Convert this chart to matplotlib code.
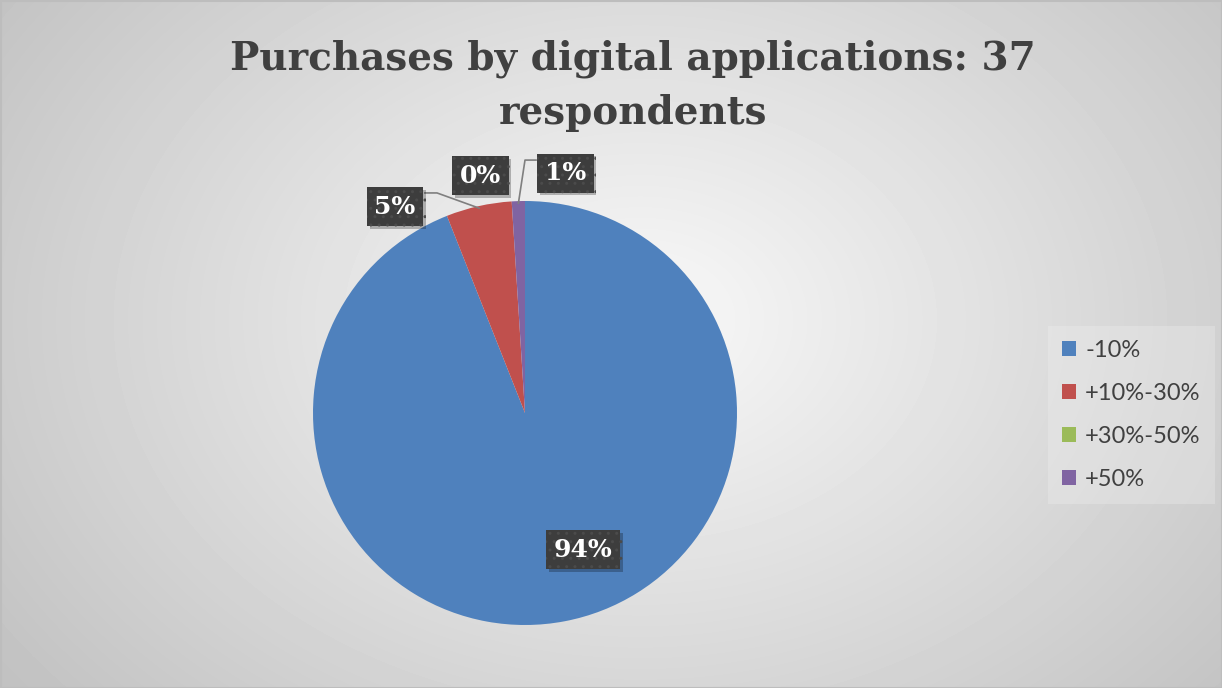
import numpy as np
import matplotlib
matplotlib.use("Agg")
import matplotlib.pyplot as plt
import matplotlib.patheffects as pe
from matplotlib.patches import Patch, Rectangle

title = "Purchases by digital applications: 37\nrespondents"
categories = ["-10%", "+10%-30%", "+30%-50%", "+50%"]
shares = [94, 5, 0, 1]
colors = ["#4F81BD", "#C0504D", "#9BBB59", "#8064A2"]

W, H = 1222, 688
fig = plt.figure(figsize=(W / 100, H / 100), dpi=100)

# radial grey background, lightest just above the middle
bg = fig.add_axes([0, 0, 1, 1], zorder=-10)
yy, xx = np.mgrid[0:H, 0:W]
r = np.hypot((xx - 640) / 700, (yy - 320) / 520)
shade = np.clip(0.975 - 0.19 * r, 0.76, 1)
bg.imshow(shade, cmap="gray", vmin=0, vmax=1, extent=[0, W, H, 0], aspect="auto")
bg.add_patch(Rectangle((0.5, 0.5), W - 1, H - 1, fill=False, ec="#bdbdbd", lw=1.5))
bg.set_xlim(0, W)
bg.set_ylim(H, 0)
bg.axis("off")

# baseline alignment pins the last line
fig.text(0.518, 1 - 124 / H, title, ha="center", va="baseline", fontsize=28,
         fontweight="bold", family="DejaVu Serif", color="#404040",
         linespacing=1.55)

# pie: centre (525, 413) px from top-left, radius 212 px
cx, cy, rad = 525, 413, 212
ax = fig.add_axes([(cx - rad) / W, (H - cy - rad) / H, 2 * rad / W, 2 * rad / H])
wedges, _ = ax.pie(shares, colors=colors, startangle=90, counterclock=False,
                   radius=1, wedgeprops=dict(lw=0))
ax.set_xlim(-1, 1)
ax.set_ylim(-1, 1)
ax.axis("off")

# label box centres (axes data units) and leader elbows
label_pos = [(0.274, -0.646), (-0.613, 0.972), (-0.210, 1.120), (0.191, 1.132)]
leaders = {1: [(-0.472, 1.038), (-0.415, 1.038)],
           3: [(0.052, 1.193), (0.0, 1.193)]}

for i, (w, (lx, ly)) in enumerate(zip(wedges, label_pos)):
    if i in leaders:
        mid = np.deg2rad((w.theta1 + w.theta2) / 2)
        pts = leaders[i] + [(np.cos(mid) * 0.99, np.sin(mid) * 0.99)]
        xs, ys = zip(*pts)
        ax.plot(xs, ys, color="#7f7f7f", lw=1.2, clip_on=False, zorder=3)
    t = ax.text(lx, ly, f"{shares[i]}%", ha="center", va="center",
                fontsize=18, fontweight="bold", family="DejaVu Serif",
                color="white", zorder=5,
                bbox=dict(boxstyle="square,pad=0.3", fc="#3d3d3d",
                          ec="#4b4b4b", lw=0, hatch=".."))
    t.get_bbox_patch().set_path_effects(
        [pe.SimplePatchShadow(offset=(2, -2), shadow_rgbFace="black", alpha=0.25),
         pe.Normal()])

handles = [Patch(fc=c, ec="none") for c in colors]
leg = fig.legend(handles, categories, loc="center left",
                 bbox_to_anchor=(1048 / W, 1 - 415 / H), frameon=True,
                 borderaxespad=0, labelcolor="#404040", handlelength=0.57,
                 handleheight=0.57, handletextpad=0.4, labelspacing=0.93,
                 borderpad=0.6, prop=dict(family="Lato", size=17))
leg.get_frame().set_facecolor("#f2f2f2")
leg.get_frame().set_alpha(0.3)
leg.get_frame().set_edgecolor("none")
leg.get_frame().set_boxstyle("square", pad=0)

fig.savefig("out.png", dpi=100)
